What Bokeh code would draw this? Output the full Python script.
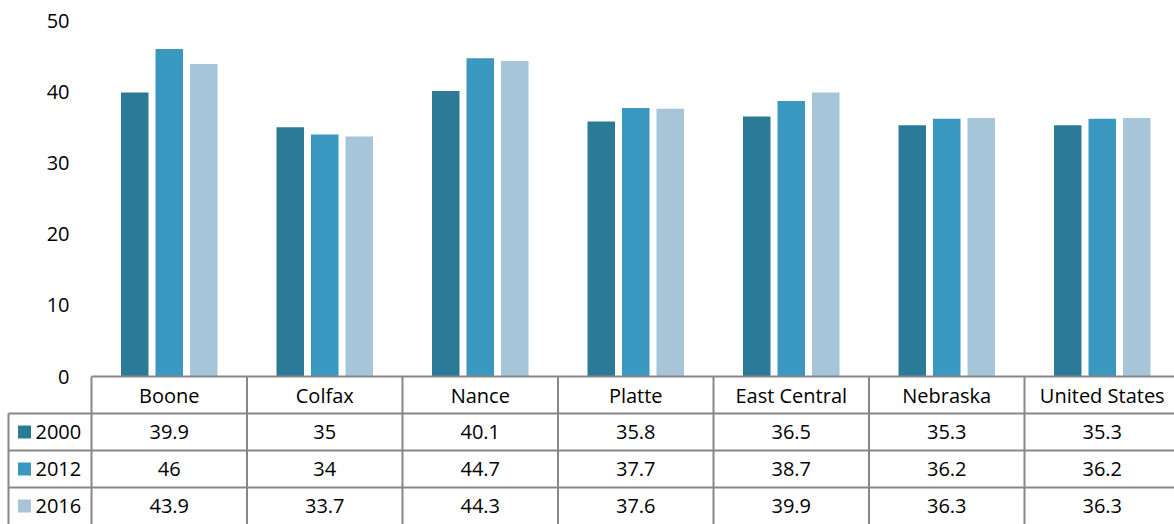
from bokeh.plotting import figure
from bokeh.models import ColumnDataSource, Range1d
from bokeh.core.properties import value
from bokeh.embed import file_html
from bokeh.resources import INLINE

categories = ["Boone", "Colfax", "Nance", "Platte", "East Central", "Nebraska", "United States"]
years = ["2000", "2012", "2016"]
v2000 = [39.9, 35, 40.1, 35.8, 36.5, 35.3, 35.3]
v2012 = [46, 34, 44.7, 37.7, 38.7, 36.2, 36.2]
v2016 = [43.9, 33.7, 44.3, 37.6, 39.9, 36.3, 36.3]
y_ticks = [0, 10, 20, 30, 40, 50]

series = [v2000, v2012, v2016]
colors = ["#2B7A97", "#3A97BF", "#A6C5D9"]
FONT = "Open Sans"
FS = "20px"
W, H = 1174, 524
LEFT = 91          # px where the category grid starts
CAT_PX = 155.5     # px per category
ZERO_PX = 376      # px (from top) of value 0
UNIT_PX = 7.12     # px per value unit
ROW_PX = 37.0
n = len(categories)

def px_x(px):
    return (px - LEFT) / CAT_PX

def px_y(px):
    return (ZERO_PX - px) / UNIT_PX

p = figure(width=W, height=H, output_backend="svg", toolbar_location=None,
           x_range=Range1d(px_x(0), px_x(W)), y_range=Range1d(px_y(H), px_y(0)),
           min_border_left=0, min_border_right=0, min_border_top=0, min_border_bottom=0)
p.outline_line_color = None
p.axis.visible = False
p.grid.visible = False

# y tick labels (value axis)
p.text(x=[px_x(69)] * len(y_ticks), y=y_ticks, text=[str(v) for v in y_ticks],
       text_align="right", text_baseline="middle", text_font=value(FONT),
       text_font_size=FS, text_color="#000000")

# bars
offsets = [-34.5 / CAT_PX, 0.0, 34.5 / CAT_PX]
bw = 27.5 / CAT_PX
for vals, off, col in zip(series, offsets, colors):
    src = ColumnDataSource(dict(x=[i + 0.5 + off for i in range(n)], top=vals))
    p.vbar(x="x", top="top", width=bw, bottom=0, source=src, fill_color=col, line_color=None)

# ---------------- data table ----------------
gc = "#878787"
lw = 2
x_lab = px_x(8)
x_far = px_x(W + 20)
row_lines = [px_y(ZERO_PX + ROW_PX * k) for k in range(5)]
row_mid = [px_y(ZERO_PX + ROW_PX * (k + 0.5)) for k in range(4)]
y_bot = px_y(H + 10)

p.segment(x0=[0], y0=[row_lines[0]], x1=[x_far], y1=[row_lines[0]], line_color=gc, line_width=lw)
p.segment(x0=[x_lab] * 3, y0=row_lines[1:4], x1=[x_far] * 3, y1=row_lines[1:4],
          line_color=gc, line_width=lw)
p.segment(x0=list(range(n + 1)), y0=[y_bot] * (n + 1), x1=list(range(n + 1)),
          y1=[row_lines[0]] * (n + 1), line_color=gc, line_width=lw)
p.segment(x0=[x_lab], y0=[y_bot], x1=[x_lab], y1=[row_lines[1]], line_color=gc, line_width=lw)

p.text(x=[i + 0.5 for i in range(n)], y=[row_mid[0]] * n, text=categories,
       text_align="center", text_baseline="middle", text_font=value(FONT),
       text_font_size=FS, text_color="#000000")
for r, vals in enumerate(series):
    p.text(x=[i + 0.5 for i in range(n)], y=[row_mid[r + 1]] * n, text=[f"{v:g}" for v in vals],
           text_align="center", text_baseline="middle", text_font=value(FONT),
           text_font_size=FS, text_color="#000000")

p.rect(x=[px_x(24)] * 3, y=row_mid[1:], width=13 / CAT_PX, height=13 / UNIT_PX,
       fill_color=colors, line_color=None)
p.text(x=[px_x(35)] * 3, y=row_mid[1:], text=years,
       text_align="left", text_baseline="middle", text_font=value(FONT),
       text_font_size=FS, text_color="#000000")

open("out.html", "w").write(file_html(p, INLINE))
